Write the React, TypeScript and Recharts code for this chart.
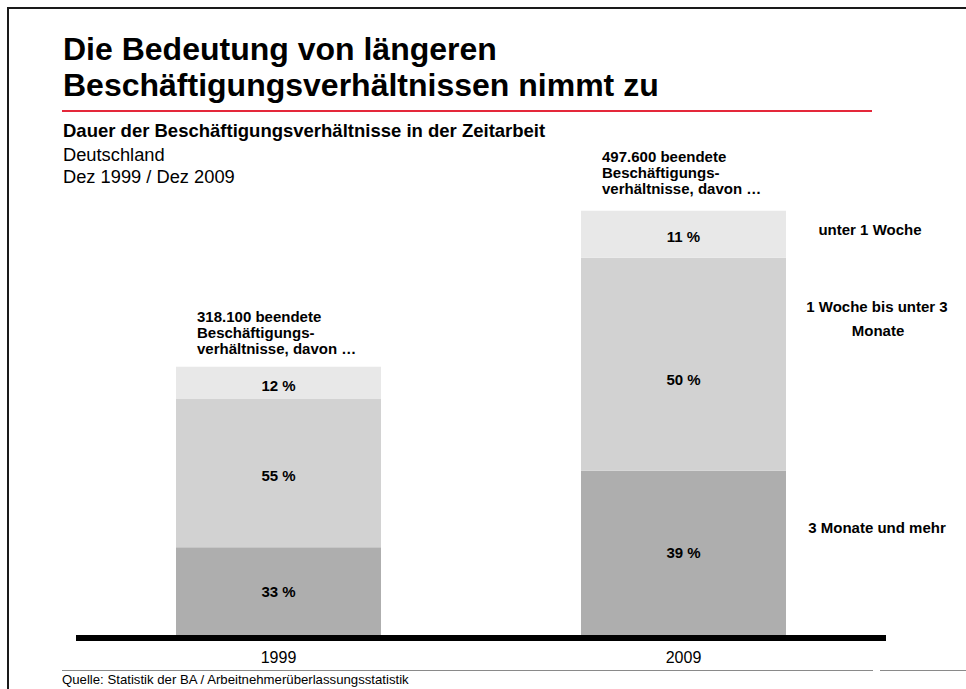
import React from 'react';
import { BarChart, Bar, XAxis, YAxis, LabelList } from 'recharts';

// Beendete Beschäftigungsverhältnisse in der Zeitarbeit (Tsd.), nach Dauer
const years = ['1999', '2009'];
const longTerm = [103, 193]; // 3 Monate und mehr
const midTerm = [174, 250]; // 1 Woche bis unter 3 Monate
const shortTerm = [38, 55]; // unter 1 Woche
const longPct = ['33 %', '39 %'];
const midPct = ['55 %', '50 %'];
const shortPct = ['12 %', '11 %'];
const totalLabels = ['318.100 beendete', '497.600 beendete'];
const seriesNames = ['unter 1 Woche', '1 Woche bis unter 3', 'Monate', '3 Monate und mehr'];

const data = years.map((y, i) => ({
  year: y,
  long: longTerm[i],
  mid: midTerm[i],
  short: shortTerm[i],
  longPct: longPct[i],
  midPct: midPct[i],
  shortPct: shortPct[i],
  total: totalLabels[i],
}));

const FONT = '"Liberation Sans", Arial, Helvetica, sans-serif';

const getBox = (p: any) => {
  const vb = p.viewBox || {};
  return {
    x: p.x ?? vb.x ?? 0,
    y: p.y ?? vb.y ?? 0,
    width: p.width ?? vb.width ?? 0,
    height: p.height ?? vb.height ?? 0,
  };
};

const pctLabel = (offsets: number[]) => (p: any) => {
  const { x, y, width, height } = getBox(p);
  const idx = p.index ?? 0;
  return (
    <text
      x={x + width / 2}
      y={y + height / 2 + (offsets[idx] || 0)}
      textAnchor="middle"
      dominantBaseline="central"
      fontFamily={FONT}
      fontSize={15}
      fontWeight="bold"
      fill="#000"
    >
      {p.value}
    </text>
  );
};

const topOffsets = [-1, -5];
const totalLabel = (p: any) => {
  const { x, y } = getBox(p);
  const idx = p.index ?? 0;
  const off = topOffsets[idx] || 0;
  const lines = [p.value, 'Beschäftigungs-', 'verhältnisse, davon …'];
  return (
    <text fontFamily={FONT} fontSize={15} fontWeight="bold" fill="#000">
      {lines.map((l, k) => (
        <tspan key={k} x={x + 21} y={y - 44 + k * 16 + off}>
          {l}
        </tspan>
      ))}
    </text>
  );
};

export default function App() {
  return (
    <div style={{ position: 'absolute', left: 0, top: 0, width: 966, height: 689, background: '#fff', overflow: 'hidden' }}>
      <BarChart
        width={966}
        height={689}
        data={data}
        margin={{ top: 124, right: 80, left: 76, bottom: 24 }}
        barSize={205}
      >
        <XAxis
          dataKey="year"
          height={30}
          tickLine={false}
          tickMargin={11}
          axisLine={{ stroke: '#000', strokeWidth: 6, transform: 'translate(0,3)' }}
          tick={{ fill: '#000', fontSize: 16, fontFamily: FONT }}
        />
        <YAxis hide domain={[0, 600]} />
        <Bar dataKey="long" stackId="a" fill="#aeaeae" isAnimationActive={false}>
          <LabelList dataKey="longPct" content={pctLabel([0, 0])} />
        </Bar>
        <Bar dataKey="mid" stackId="a" fill="#d2d2d2" isAnimationActive={false}>
          <LabelList dataKey="midPct" content={pctLabel([2, 15])} />
        </Bar>
        <Bar dataKey="short" stackId="a" fill="#e8e8e8" isAnimationActive={false}>
          <LabelList dataKey="shortPct" content={pctLabel([3, 2])} />
          <LabelList dataKey="total" content={totalLabel} />
        </Bar>
      </BarChart>
      <svg
        width={966}
        height={689}
        style={{ position: 'absolute', left: 0, top: 0, pointerEvents: 'none' }}
        fontFamily={FONT}
      >
        <line x1={8} y1={7} x2={8} y2={689} stroke="#1a1a1a" strokeWidth={2} />
        <line x1={7} y1={8} x2={966} y2={8} stroke="#1a1a1a" strokeWidth={2} />
        <text x={63} y={60} fontSize={32} fontWeight="bold" fill="#000">Die Bedeutung von längeren</text>
        <text x={63} y={96} fontSize={32} fontWeight="bold" fill="#000">Beschäftigungsverhältnissen nimmt zu</text>
        <line x1={62} y1={111} x2={872} y2={111} stroke="#e4283a" strokeWidth={2} />
        <text x={63} y={137} fontSize={18.5} fontWeight="bold" fill="#000">Dauer der Beschäftigungsverhältnisse in der Zeitarbeit</text>
        <text x={63} y={161} fontSize={18.3} fill="#000">Deutschland</text>
        <text x={63} y={183} fontSize={18.3} fill="#000">Dez 1999 / Dez 2009</text>
        <text x={870} y={235} fontSize={15} fontWeight="bold" textAnchor="middle" fill="#000">{seriesNames[0]}</text>
        <text x={877} y={312} fontSize={15} fontWeight="bold" textAnchor="middle" fill="#000">{seriesNames[1]}</text>
        <text x={878} y={336} fontSize={15} fontWeight="bold" textAnchor="middle" fill="#000">{seriesNames[2]}</text>
        <text x={877} y={533} fontSize={15} fontWeight="bold" textAnchor="middle" fill="#000">{seriesNames[3]}</text>
        <line x1={62} y1={670.5} x2={873} y2={670.5} stroke="#8a8a8a" strokeWidth={1} />
        <line x1={880} y1={670.5} x2={966} y2={670.5} stroke="#8a8a8a" strokeWidth={1} />
        <text x={62} y={684} fontSize={13.2} fill="#000">Quelle: Statistik der BA / Arbeitnehmerüberlassungsstatistik</text>
      </svg>
    </div>
  );
}
